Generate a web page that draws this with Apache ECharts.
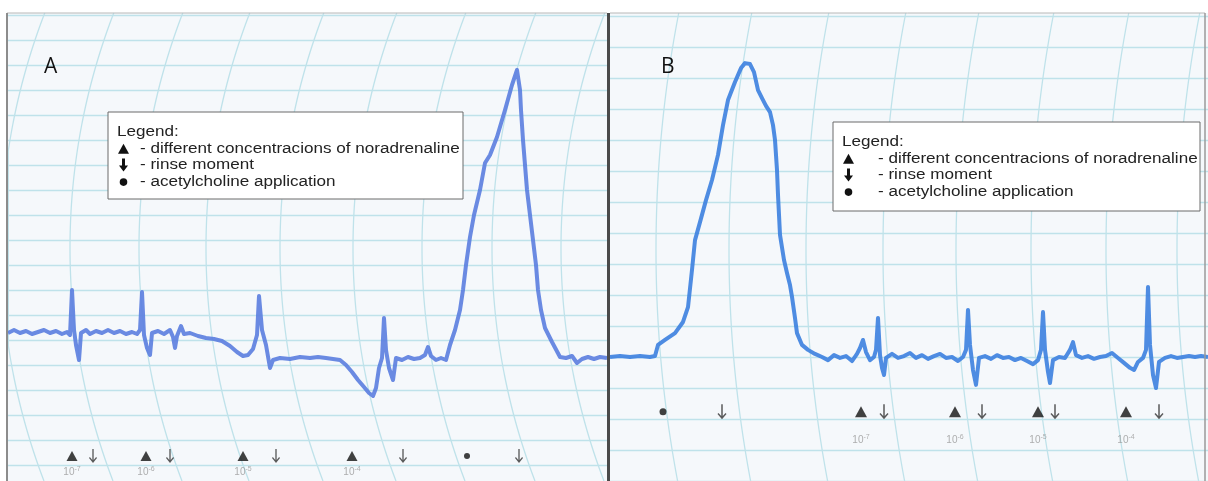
<!DOCTYPE html>
<html>
<head>
<meta charset="utf-8">
<script src="https://cdn.jsdelivr.net/npm/echarts@6/dist/echarts.min.js"></script>
<style>
  html, body { margin: 0; padding: 0; background: #fff; }
  #chart { width: 1208px; height: 481px; }
</style>
</head>
<body>
<div id="chart"></div>
<script>
// recorder traces: [time on paper, tension in tenths of a grid division]
var traceA = [
  [1,52.8],[7,54],[13,52.8],[19,53.6],[25,52.4],[31,53.2],[37,54],[43,52.8],[49,53.6],[55,52.4],
  [60,53.2],[63,52],[65,70],[67,54],[69,48],[72,42],[74,52.8],[79,54],[83,52.4],[89,53.6],
  [95,52.8],[101,54],[107,52.8],[113,53.6],[119,52.4],[125,53.2],[130,52.4],[133,54],[135,69.2],[137,52],
  [140,46.8],[143,44],[145,52.8],[151,53.6],[157,52.4],[163,54],[166,51.2],[168,46.8],[170,51.6],[174,55.6],
  [177,52.4],[183,52.8],[191,51.6],[199,50.8],[207,50.4],[215,49.6],[223,47.6],[230,45.2],[236,43.6],[241,44],
  [246,46.4],[250,52],[252,67.6],[255,54],[259,48],[263,38.8],[266,42],[273,42.8],[283,42.4],[293,43.2],
  [303,42.8],[311,43.2],[319,42.8],[326,42.4],[333,42],[339,40],[345,37.2],[351,34],[357,31.2],[362,28.8],
  [366,27.6],[369,30.8],[372,38.8],[375,42.8],[377,58.8],[379,46],[382,38.8],[386,34],[389,42.8],[395,42],
  [401,43.2],[407,42.4],[413,42.8],[418,44],[421,47.2],[424,43.6],[429,42],[434,42.8],[439,42],[443,48],
  [448,54],[453,62],[456,70],[459,80],[463,91.2],[467,100],[473,110],[478,120.8],[483,124],[490,131.2],
  [498,142],[505,152],[510,158],[513,150],[514,142],[516,130],[518,120],[520,110],[523,100],[526,90],
  [529,80],[531,70],[534,62],[538,54.8],[545,49.2],[553,43.2],[559,42.8],[565,43.6],[570,40.8],[575,42.4],
  [581,43.2],[587,42.4],[593,43.2],[600,42.8]
];
var traceB = [
  [0,0],[10,0.3],[20,0],[30,0.3],[40,0],[45,0.3],[48,3.9],[55,5.5],[65,7.7],[73,11.3],
  [78,16.1],[82,28.1],[85,37.7],[90,43.5],[96,50.6],[102,57.1],[108,65.2],[113,74.8],[118,82.9],[125,88.7],
  [131,93.2],[135,94.8],[140,94.5],[144,91.9],[148,86.1],[152,83.5],[156,81],[160,79],[163,74.8],[165,70],
  [167,60.3],[168,52.3],[170,39.4],[174,31.3],[177,27.1],[180,23.2],[182,19.4],[185,12.6],[187,7.7],[192,3.9],
  [198,2.3],[205,1],[212,0],[218,-1],[224,0.6],[230,-0.3],[236,0.3],[242,-1.3],[247,1],[250,2.9],
  [253,5.5],[256,1.6],[260,-1],[264,0],[266,2.3],[268,12.6],[270,0.6],[272,-3.5],[274,-5.8],[276,-0.3],
  [282,1],[288,-0.3],[294,0.3],[300,1.3],[306,-0.3],[312,0.6],[318,-0.6],[324,0.3],[330,1],[336,-0.3],
  [342,0],[348,-1.3],[353,0],[356,2.3],[358,15.2],[360,3.9],[363,-4.2],[366,-9],[369,-0.3],[375,0.3],
  [381,-0.6],[387,0.6],[393,-0.3],[399,0],[405,-1],[411,-0.3],[417,-1.3],[423,-2.3],[428,-1],[431,2.3],
  [433,14.5],[435,2.3],[438,-4.8],[440,-8.4],[443,-1],[449,0],[455,-0.3],[460,2.3],[463,4.8],[466,0.6],
  [472,-0.3],[478,0.3],[484,-0.6],[490,0],[496,0.3],[502,1.3],[508,-0.3],[514,-1.9],[520,-3.5],[524,-4.2],
  [528,-1.6],[533,-0.3],[536,2.3],[538,22.6],[540,3.9],[543,-5.8],[546,-10],[549,-1.6],[555,-0.3],[561,0.3],
  [567,-0.3],[573,0],[579,0.3],[585,0],[591,0.3],[598,0]
];

// event marks (time on paper)
var noradrenalineA = [65, 139, 236, 345];
var rinseA = [86, 163, 269, 396, 512];
var acetylcholineA = [460];
var noradrenalineB = [251, 345, 428, 516];
var rinseB = [112, 274, 372, 445, 549];
var acetylcholineB = [53];
var concExponents = ['-7', '-6', '-5', '-4'];

// chart paper rulings, in tension units
var rulingsA = [0, 10, 20, 30, 40, 50, 60, 70, 80, 90, 100, 110, 120, 130, 140, 150, 160, 170, 180];
var rulingsB = [-40, -30, -20, -10, 0, 10, 20, 30, 40, 50, 60, 70, 80, 90, 100, 110];

var legendLines = [
  '- different concentracions of noradrenaline',
  '- rinse moment',
  '- acetylcholine application'
];

var ARROW = 'path://M3.3,0 L4.7,0 L4.7,10 L7.3,7.4 L8.2,8.3 L4,12.8 L-0.2,8.3 L0.7,7.4 L3.3,10 Z';
var PAPER = '#f5f8fb';
var GRIDLINE = '#bfe2ea';
var FONT = '14px "Liberation Sans"';

function markSeries(idx, times, y, symbol, size, color) {
  return {
    type: 'scatter', xAxisIndex: idx, yAxisIndex: idx, silent: true, z: 5,
    symbol: symbol, symbolSize: size,
    itemStyle: { color: color },
    data: times.map(function (t) { return [t, y]; })
  };
}

function labelSeries(idx, times, y) {
  return {
    type: 'scatter', xAxisIndex: idx, yAxisIndex: idx, silent: true, z: 5,
    symbolSize: 0,
    data: times.map(function (t, i) { return { value: [t, y], exp: concExponents[i] }; }),
    label: {
      show: true, position: 'inside',
      formatter: function (p) { return '{b|10}{s|' + p.data.exp + '}'; },
      rich: {
        b: { fontSize: 10, color: '#9a9a9a', fontFamily: 'Liberation Sans' },
        s: { fontSize: 7, color: '#9a9a9a', verticalAlign: 'top', padding: [0, 0, 6, 0], fontFamily: 'Liberation Sans' }
      }
    }
  };
}

function rulingSeries(idx, levels) {
  return {
    type: 'line', xAxisIndex: idx, yAxisIndex: idx, data: [], z: 1, silent: true,
    markLine: {
      z: 1, silent: true, symbol: 'none', animation: false,
      label: { show: false },
      lineStyle: { color: GRIDLINE, width: 1.3, type: 'solid' },
      data: levels.map(function (v) { return { yAxis: v }; })
    }
  };
}

// curved time lines of the recorder paper
function arc(x0, r, yc, xMin, xMax) {
  var pts = [];
  for (var y = 13; y <= 481; y += 3) {
    var dy = y - yc;
    var x = x0 + r - Math.sqrt(r * r - dy * dy);
    if (x >= xMin && x <= xMax) pts.push([x, y]);
  }
  return { type: 'polyline', z: -1, silent: true, shape: { points: pts },
    style: { stroke: GRIDLINE, lineWidth: 1.3, fill: null } };
}

function legendBox(x, y, w, h, textX) {
  var rowH = 16.7;
  var r = function (i) { return y + 20 + i * rowH; };
  var top = { zlevel: 1, z: 50 };
  var els = [
    { type: 'rect', shape: { x: x, y: y, width: w, height: h },
      style: { fill: '#fff', stroke: '#6a6a6a', lineWidth: 1 } },
    { type: 'text', x: x + 9, y: r(0), scaleX: 1.22, style: { text: 'Legend:', fill: '#222',
      font: FONT, textVerticalAlign: 'middle' } },
    { type: 'polygon', shape: { points: [[x + 10, r(1) + 5], [x + 21, r(1) + 5], [x + 15.5, r(1) - 5]] },
      style: { fill: '#111' } },
    { type: 'polygon', shape: { points: [[x + 14, r(2) - 7], [x + 17, r(2) - 7], [x + 17, r(2)], [x + 20, r(2)],
      [x + 15.5, r(2) + 6], [x + 11, r(2)], [x + 14, r(2)]] },
      style: { fill: '#111' } },
    { type: 'circle', shape: { cx: x + 15.5, cy: r(3), r: 3.8 }, style: { fill: '#111' } }
  ];
  legendLines.forEach(function (s, i) {
    els.push({ type: 'text', x: x + textX, y: r(i + 1), scaleX: 1.22,
      style: { text: s, fill: '#222', font: FONT, textVerticalAlign: 'middle' } });
  });
  return els.map(function (e, i) { return Object.assign(e, top, { z: 50 + i }); });
}

var arcsA = [1, 70, 139, 206, 280, 353, 422, 492, 561];
var arcsB = [656, 729, 806, 883, 956, 1031, 1106, 1177];

var graphics = [
  { type: 'rect', z: -5, silent: true, shape: { x: 7, y: 13, width: 601, height: 468 }, style: { fill: PAPER } },
  { type: 'rect', z: -5, silent: true, shape: { x: 610, y: 13, width: 598, height: 468 }, style: { fill: PAPER } }
];
arcsA.forEach(function (x0) { graphics.push(arc(x0, 653, 248, 8, 607)); });
arcsB.forEach(function (x0) { graphics.push(arc(x0, 1246, 250, 611, 1204)); });
graphics.push(
  { type: 'line', zlevel: 1, shape: { x1: 7, y1: 13, x2: 607, y2: 13 }, style: { stroke: '#b8b8b8', lineWidth: 1 } },
  { type: 'line', zlevel: 1, shape: { x1: 7, y1: 13, x2: 7, y2: 481 }, style: { stroke: '#8c8c8c', lineWidth: 2 } },
  { type: 'line', zlevel: 1, shape: { x1: 610, y1: 13, x2: 1205, y2: 13 }, style: { stroke: '#b8b8b8', lineWidth: 1 } },
  { type: 'line', zlevel: 1, shape: { x1: 608.5, y1: 13, x2: 608.5, y2: 481 }, style: { stroke: '#4a4a4a', lineWidth: 3 } },
  { type: 'line', zlevel: 1, shape: { x1: 1205, y1: 13, x2: 1205, y2: 481 }, style: { stroke: '#9a9a9a', lineWidth: 1.5 } },
  { type: 'text', zlevel: 1, x: 44, y: 67, style: { text: 'A', fill: '#111', font: '21px "Open Sans"', textVerticalAlign: 'middle' } },
  { type: 'text', zlevel: 1, x: 661, y: 67, style: { text: 'B', fill: '#111', font: '21px "Open Sans"', textVerticalAlign: 'middle' } }
);
graphics = graphics.concat(legendBox(108, 112, 355, 87, 32), legendBox(833, 122, 367, 89, 45));

var chart = echarts.init(document.getElementById('chart'));
var hideAxis = { show: true, axisLine: { show: false }, axisTick: { show: false },
  axisLabel: { show: false }, splitLine: { show: false } };

chart.setOption({
  animation: false,
  grid: [
    { left: 7, width: 600, top: 13, bottom: 0 },
    { left: 610, width: 598, top: 13, bottom: 0 }
  ],
  xAxis: [
    Object.assign({ type: 'value', gridIndex: 0, min: 0, max: 600 }, hideAxis),
    Object.assign({ type: 'value', gridIndex: 1, min: 0, max: 598 }, hideAxis)
  ],
  yAxis: [
    Object.assign({ type: 'value', gridIndex: 0, min: -6.4, max: 180.8 }, hideAxis),
    Object.assign({ type: 'value', gridIndex: 1, min: -40, max: 110.97 }, hideAxis)
  ],
  graphic: graphics,
  series: [
    rulingSeries(0, rulingsA),
    rulingSeries(1, rulingsB),
    { type: 'line', xAxisIndex: 0, yAxisIndex: 0, data: traceA, showSymbol: false, z: 4,
      lineStyle: { color: '#5d80e0', width: 4, opacity: 0.92, join: 'round' } },
    { type: 'line', xAxisIndex: 1, yAxisIndex: 1, data: traceB, showSymbol: false, z: 4,
      lineStyle: { color: '#3f82e0', width: 4, opacity: 0.92, join: 'round' } },
    markSeries(0, noradrenalineA, 3.6, 'triangle', [11, 10], '#111'),
    markSeries(0, rinseA, 3.6, ARROW, [8, 14], '#333'),
    markSeries(0, acetylcholineA, 3.6, 'circle', 6, '#111'),
    labelSeries(0, noradrenalineA, -2.8),
    markSeries(1, noradrenalineB, -17.7, 'triangle', [12, 11], '#111'),
    markSeries(1, rinseB, -17.7, ARROW, [9, 15], '#333'),
    markSeries(1, acetylcholineB, -17.7, 'circle', 7, '#111'),
    labelSeries(1, noradrenalineB, -26.8)
  ]
});
</script>
</body>
</html>
